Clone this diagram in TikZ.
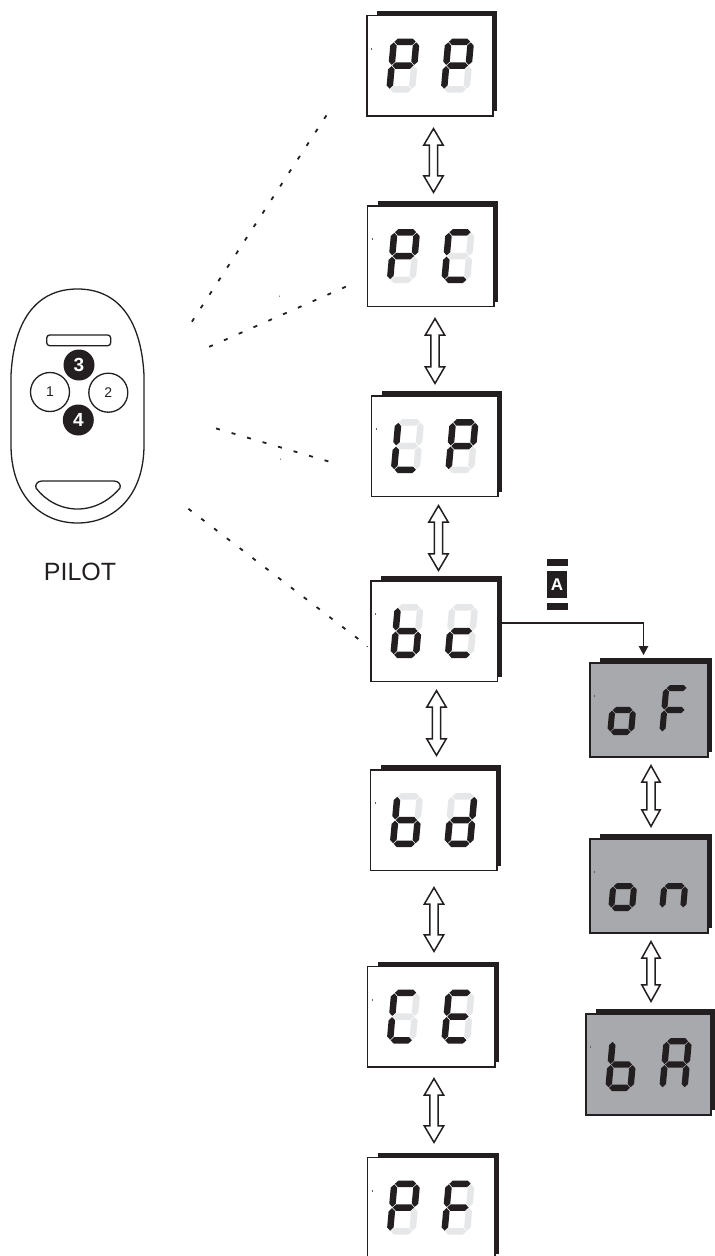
\documentclass[tikz,border=0pt]{standalone}
\usepackage{fontspec}
\setmainfont{Liberation Sans}
\usetikzlibrary{calc,arrows.meta}
\definecolor{ink}{HTML}{231F20}
\definecolor{ghost}{HTML}{E6E7E8}
\definecolor{panel}{HTML}{A7A9AC}
\tikzset{
  x=1pt,y=1pt,
  backbox/.style={rectangle,draw=none,fill=ink,inner sep=0pt,outer sep=0pt,anchor=north west},
  frontbox/.style={rectangle,draw=ink,line width=1.5pt,inner sep=0pt,outer sep=0pt,anchor=north west},
  updown/.style={draw=ink,fill=white,line width=1.5pt},
  dots/.style={draw=ink,line width=1.8pt,dash pattern=on 4pt off 12.15pt,shorten >=-2pt,shorten <=-2pt},
  speck/.style={fill=ink!70,draw=none},
  shell/.style={draw=ink,line width=1.3pt,fill=white},
  blackkey/.style={circle,fill=ink,text=white,inner sep=0pt,minimum size=31pt,font=\bfseries\fontsize{19}{20}\selectfont},
  whitekey/.style={circle,draw=ink,line width=1.3pt,fill=white,text=ink,inner sep=0pt,minimum size=39pt,font=\fontsize{14}{15}\selectfont},
  wire/.style={draw=ink,line width=1.2pt,-{Triangle[length=9pt,width=9.5pt]}},
}
\newcommand\hsegm[1]{\fill[\segcol] (3.85,#1) -- (7.1,{#1+3.25}) -- (21.9,{#1+3.25}) -- (25.15,#1) -- (21.9,{#1-3.25}) -- (7.1,{#1-3.25}) -- cycle;}
\newcommand\vsegm[3]{\fill[\segcol] (#1,#2) -- ({#1+3.25},{#2+3.25}) -- ({#1+3.25},{#3-3.25}) -- (#1,#3) -- ({#1-3.25},{#3-3.25}) -- ({#1-3.25},{#2+3.25}) -- cycle;}
\def\dsega{\hsegm{50.75}}
\def\dsegg{\hsegm{27}}
\def\dsegd{\hsegm{3.25}}
\def\dsegf{\vsegm{3.25}{27.6}{50.15}}
\def\dsege{\vsegm{3.25}{3.85}{26.4}}
\def\dsegb{\vsegm{25.75}{27.6}{50.15}}
\def\dsegc{\vsegm{25.75}{3.85}{26.4}}
\def\dseg{}
% x, y of bottom, scale, lit segments, unlit segments
\newcommand\digitat[5]{%
  \begin{scope}[shift={({#1},{-(#2)})},scale=#3,xslant=.09]
    \def\segcol{ghost}\foreach \s in {#5}{\csname dseg\s\endcsname}
    \def\segcol{ink}\foreach \s in {#4}{\csname dseg\s\endcsname}
  \end{scope}}
% name, L, T, R, B, fill
\newcommand\panelat[6]{%
  \pgfmathsetmacro\bw{#4-#2}\pgfmathsetmacro\bh{#5-#3}%
  \node[backbox,minimum width={(\bw-6)*1pt},minimum height={\bh*1pt}] (#1s) at ({#2+10},{5-#3}) {};
  \node[frontbox,fill=#6,minimum width={\bw*1pt},minimum height={\bh*1pt}] (#1) at (#2,-#3) {};
  \fill[speck] ({#2+4.2},{-#3-32}) rectangle ({#2+5.2},{-#3-34});}
% white panel with two digits
\newcommand\whitepanel[9]{%
  \panelat{#1}{#2}{#3}{#4}{#5}{white}
  \digitat{#2+19}{#3+77}{1}{#6}{#7}
  \digitat{#2+73.5}{#3+77}{1}{#8}{#9}}
% name, x, tip top, tip bottom, head half width
\newcommand\updownat[5]{%
  \coordinate (#1t) at (#2,{-#3-1.6});
  \coordinate (#1b) at (#2,{-#4+1.6});
  \draw[updown,miter limit=6] (#1t) -- ($(#1t)+(#5,-16.5)$) -- ($(#1t)+(4.2,-16.5)$)
    -- ($(#1b)+(4.2,16.5)$) -- ($(#1b)+(#5,16.5)$) -- (#1b)
    -- ($(#1b)+(-#5,16.5)$) -- ($(#1b)+(-4.2,16.5)$) -- ($(#1t)+(-4.2,-16.5)$)
    -- ($(#1t)+(-#5,-16.5)$) -- cycle;}
\begin{document}
\begin{tikzpicture}
\useasboundingbox (0,-1256) rectangle (715,0);
% dotted sight lines
\coordinate (d1a) at (326,-116); \coordinate (d1b) at (193,-320);
\coordinate (d2a) at (344,-287.5); \coordinate (d2b) at (211,-346);
\coordinate (d3a) at (218,-429); \coordinate (d3b) at (327,-461);
\coordinate (d4a) at (190,-510); \coordinate (d4b) at (357,-638);
\draw[dots] (d1b) -- (d1a);
\draw[dots] (d2b) -- (d2a);
\draw[dots] (d3a) -- (d3b);
\draw[dots] (d4a) -- (d4b);
\fill[ink] (367.2,-646.5) circle (.7pt);
\fill[ink] (279.5,-296) circle (.5pt);
\fill[ink] (280.5,-459) circle (.5pt);
% remote
\draw[shell] (77.5,-289) .. controls (38,-289) and (14,-318) .. (11,-375)
  -- (11,-445) .. controls (11,-495) and (40,-523) .. (77.5,-523)
  .. controls (115,-523) and (144,-495) .. (144,-445)
  -- (144,-375) .. controls (141,-318) and (117,-289) .. (77.5,-289) -- cycle;
\draw[shell,rounded corners=3pt] (46.7,-335) rectangle (110.7,-345.7);
\draw[shell] (42,-481) -- (114,-481) .. controls (119,-481) and (121,-485) .. (120,-488)
  .. controls (110,-500) and (95,-509) .. (77.5,-509)
  .. controls (60,-509) and (45,-500) .. (36,-488)
  .. controls (35,-485) and (37,-481) .. (42,-481) -- cycle;
\node[whitekey] (k1) at (50,-392) {1};
\node[whitekey] (k2) at (108.3,-392.7) {2};
\node[blackkey] (k3) at (79,-365) {3};
\node[blackkey] (k4) at (78.3,-420) {4};
\node[text=ink,font=\fontsize{25}{28}\selectfont,inner sep=0pt] (pilot) at (80,-572) {PILOT};
% white panels
\whitepanel{pp}{367}{15.5}{493}{116}{a,b,e,f,g}{c,d}{a,b,e,f,g}{c,d}
\whitepanel{pc}{367.5}{206}{494}{306.5}{a,b,e,f,g}{c,d}{a,f,e,d}{b,c,g}
\whitepanel{lp}{371.5}{396}{498}{496.5}{f,e,d}{a,b,c,g}{a,b,e,f,g}{c,d}
\whitepanel{bc}{371}{581}{497.5}{681.5}{f,e,g,c,d}{a,b}{g,e,d}{a,b,c,f}
\whitepanel{bd}{370.5}{770}{497}{870.5}{f,e,g,c,d}{a,b}{b,c,d,e,g}{a,f}
\whitepanel{ce}{367.5}{966.5}{495}{1067}{a,f,e,d}{b,c,g}{a,f,g,e,d}{b,c}
\whitepanel{pf}{367.5}{1157.5}{495}{1259}{a,b,e,f,g}{c,d}{a,f,g,e}{b,c,d}
% grey panels
\panelat{of}{590}{663}{708}{757}{panel}
\digitat{607}{735}{.926}{c,d,e,g}{}
\digitat{659}{735}{.926}{a,f,g,e}{}
\panelat{on}{590}{839}{708}{933}{panel}
\digitat{608}{911}{.926}{c,d,e,g}{}
\digitat{659}{911}{.926}{e,g,c}{}
\panelat{ba}{586}{1014}{711}{1115}{panel}
\digitat{605}{1091}{.98}{f,e,g,c,d}{}
\digitat{659}{1091}{.98}{a,b,c,e,f,g}{}
% double arrows
\updownat{a1}{433.5}{127}{194}{9.7}
\updownat{a2}{435}{317}{385}{9.7}
\updownat{a3}{438.5}{504}{572}{9.7}
\updownat{a4}{436.5}{689}{757}{9.7}
\updownat{a5}{434}{886}{953}{9.7}
\updownat{a6}{434}{1077}{1144}{9.7}
\updownat{a7}{651}{764}{828}{9.2}
\updownat{a8}{651}{940}{1003}{9.2}
% key A symbol
\fill[ink] (547,-559) rectangle (567.5,-566);
\node[rectangle,fill=ink,text=white,inner sep=0pt,minimum width=20.5pt,minimum height=27.5pt,font=\bfseries\fontsize{17}{18}\selectfont] (keya) at (557,-584.5) {A};
\fill[ink] (547,-603) rectangle (568,-610);
% connector
\coordinate (wirestart) at (bcs.east |- 0,-623);
\coordinate (wireend) at (643.5,-655);
\draw[wire] (wirestart) -| (wireend);
\end{tikzpicture}
\end{document}
